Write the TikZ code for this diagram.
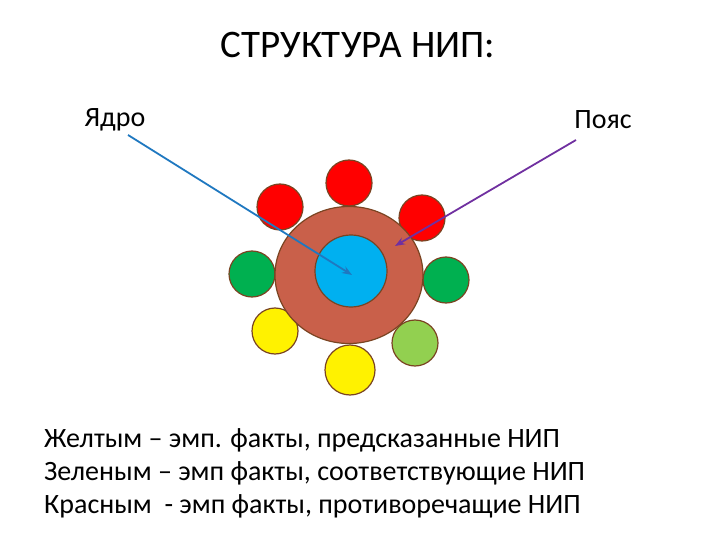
\documentclass[tikz,border=0pt]{standalone}
\usepackage{fontspec}
\setmainfont{Carlito}
\usetikzlibrary{arrows.meta,shapes.geometric}
\definecolor{edge}{HTML}{7A4422}
\definecolor{belt}{HTML}{C9604A}
\definecolor{core}{HTML}{00B0F0}
\definecolor{gr}{HTML}{00B050}
\definecolor{lg}{HTML}{92D050}
\definecolor{ar1}{HTML}{1F78C0}
\definecolor{ar2}{HTML}{7030A0}
\tikzset{fact/.style={circle,draw=edge,line width=1.2pt,minimum size=46pt,inner sep=0pt},
lbl/.style={font=\fontsize{28}{32}\selectfont,inner sep=0pt},
leg/.style={font=\fontsize{28}{32}\selectfont,anchor=west,inner sep=0pt}}
\begin{document}
\begin{tikzpicture}[x=1pt,y=-1pt]
\useasboundingbox (0,0) rectangle (720,540);
\node[fact,fill=red] (r1) at (280,207) {};
\node[fact,fill=red] (r2) at (349,183) {};
\node[fact,fill=red] (r3) at (422,218) {};
\node[fact,fill=gr] (g1) at (252,274) {};
\node[fact,fill=gr] (g2) at (446,280) {};
\node[fact,fill=yellow] (y1) at (275,331) {};
\node[fact,fill=yellow,minimum size=50pt] (y2) at (350,370) {};
\node[fact,fill=lg] (l1) at (415,343) {};
\node[ellipse,draw=edge,line width=1.2pt,fill=belt,minimum width=148pt,minimum height=137pt,inner sep=0pt] (belt) at (349,275) {};
\node[circle,draw=edge,line width=1.2pt,fill=core,minimum size=72pt,inner sep=0pt] (core) at (351,271) {};
\node[font=\fontsize{39}{44}\selectfont,inner sep=0pt] (title) at (358,45) {СТРУКТУРА НИП:};
\node[lbl] (ya) at (115,120) {Ядро};
\node[lbl] (po) at (603,120) {Пояс};
\coordinate (a1) at (128,135);
\coordinate (a1e) at (352,275);
\coordinate (a2) at (576,140);
\coordinate (a2e) at (395,246);
\draw[ar1,line width=1.8pt,-{Stealth[length=10pt]}] (a1) -- (a1e);
\draw[ar2,line width=1.8pt,-{Stealth[length=10pt]}] (a2) -- (a2e);
\node[leg] (t1) at (44,440) {Желтым – эмп. факты, предсказанные НИП};
\node[leg] (t2) at (44,473) {Зеленым – эмп факты, соответствующие НИП};
\node[leg] (t3) at (44,506) {Красным \ - эмп факты, противоречащие НИП};
\end{tikzpicture}
\end{document}
